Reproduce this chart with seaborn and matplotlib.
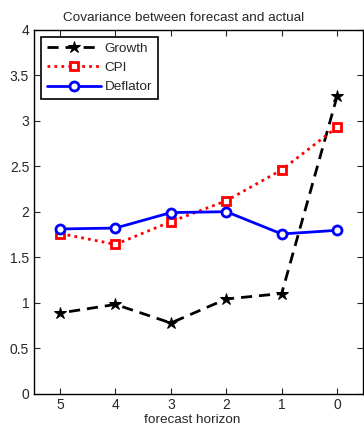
import matplotlib
matplotlib.use("Agg")
import matplotlib.pyplot as plt
import seaborn as sns
import pandas as pd

horizon = [5, 4, 3, 2, 1, 0]
growth = [0.886, 0.98, 0.776, 1.04, 1.10, 3.27]
cpi = [1.76, 1.64, 1.89, 2.12, 2.46, 2.93]
deflator = [1.81, 1.82, 1.99, 2.00, 1.755, 1.795]

sns.set_style("ticks")
plt.rcParams['font.family'] = ['Liberation Sans', 'DejaVu Sans']

fig = plt.figure(figsize=(3.64, 4.32), dpi=100)
ax = fig.add_axes([0.0934, 0.089, 0.9043, 0.842])

df = pd.DataFrame({'horizon': horizon, 'Growth': growth, 'CPI': cpi, 'Deflator': deflator})

sns.lineplot(data=df, x='horizon', y='Growth', ax=ax, color='black', linestyle=(0, (4, 2.5)),
             linewidth=2, marker='*', markersize=9, markeredgecolor='black', label='Growth')
sns.lineplot(data=df, x='horizon', y='CPI', ax=ax, color='red', linestyle=(0, (1, 1.5)),
             linewidth=2, marker='s', markersize=6, markerfacecolor='white',
             markeredgecolor='red', markeredgewidth=2, label='CPI')
sns.lineplot(data=df, x='horizon', y='Deflator', ax=ax, color='blue', linestyle='-',
             linewidth=2, marker='o', markersize=6.5, markerfacecolor='white',
             markeredgecolor='blue', markeredgewidth=2, label='Deflator')

ax.set_xlim(5.47, -0.47)
ax.set_ylim(0, 4)
ax.set_xticks(horizon)
ax.set_yticks([0, 0.5, 1, 1.5, 2, 2.5, 3, 3.5, 4])
ax.set_yticklabels(['0', '0.5', '1', '1.5', '2', '2.5', '3', '3.5', '4'])
ax.tick_params(direction='in', top=True, right=True, labelsize=10, length=4, width=0.8)
ax.set_xlabel('forecast horizon', fontsize=9.7, labelpad=1, x=0.48)
ax.set_ylabel('')
ax.set_title('Covariance between forecast and actual', fontsize=9.7, pad=6, x=0.455)
for s in ax.spines.values():
    s.set_linewidth(1.0)
    s.set_color('black')

leg = ax.legend(loc='upper left', fontsize=9.7, fancybox=False, framealpha=1,
                edgecolor='black', borderaxespad=0.5, handlelength=4.0,
                labelspacing=0.5, borderpad=0.45, handletextpad=0.3)
leg.get_frame().set_linewidth(1.2)

fig.savefig('out.png', dpi=100)
